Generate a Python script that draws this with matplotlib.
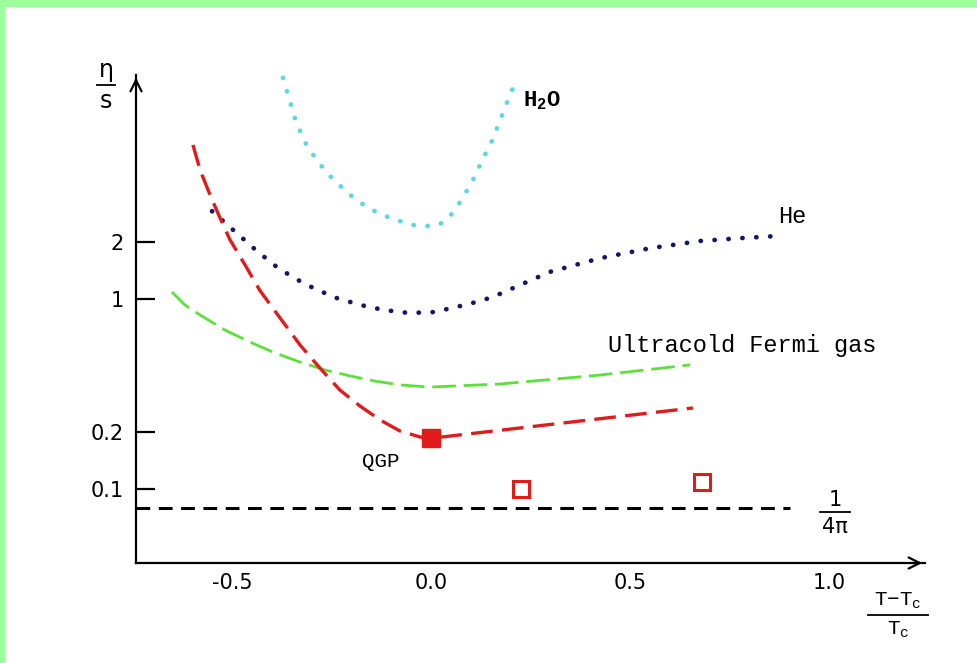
import numpy as np
import matplotlib
matplotlib.use('Agg')
import matplotlib.pyplot as plt
from matplotlib.patches import Rectangle
from matplotlib.lines import Line2D

# eta/s vs reduced temperature
h2o_x = [-0.372, -0.339, -0.317, -0.286, -0.249, -0.206, -0.158, -0.103, -0.045,
         -0.013, 0.018, 0.043, 0.075, 0.103, 0.128, 0.153, 0.173, 0.193, 0.206]
h2o_y = [14.6, 8.55, 6.70, 5.33, 4.33, 3.57, 3.01, 2.67, 2.45,
         2.42, 2.45, 2.64, 3.28, 4.13, 5.33, 6.79, 8.65, 11.1, 12.9]

he_x = [-0.550, -0.505, -0.440, -0.394, -0.344, -0.291, -0.236, -0.176, -0.118,
        -0.055, 0.008, 0.095, 0.153, 0.299, 0.425, 0.550, 0.676, 0.776, 0.877]
he_y = [2.90, 2.39, 1.81, 1.51, 1.29, 1.13, 1.01, 0.929, 0.875,
        0.844, 0.854, 0.941, 1.02, 1.39, 1.64, 1.85, 2.02, 2.09, 2.15]

fermi_x = [-0.651, -0.618, -0.580, -0.518, -0.455, -0.392, -0.329, -0.266, -0.204,
           -0.141, -0.078, -0.003, 0.173, 0.425, 0.651]
fermi_y = [1.09, 0.930, 0.824, 0.687, 0.594, 0.520, 0.466, 0.423, 0.394,
           0.370, 0.353, 0.344, 0.357, 0.398, 0.450]

qgp_x = [-0.598, -0.580, -0.555, -0.530, -0.505, -0.467, -0.430, -0.379, -0.329,
         -0.279, -0.229, -0.178, -0.128, -0.078, -0.028, 0.0, 0.658]
qgp_y = [6.47, 4.77, 3.53, 2.67, 2.05, 1.51, 1.11, 0.794, 0.573,
         0.433, 0.332, 0.273, 0.231, 0.202, 0.188, 0.185, 0.267]

qgp_pt_x, qgp_pt_y = [0.0], [0.185]
open_x = [0.226, 0.681]
open_y = [0.100, 0.109]

bound = 1 / (4 * np.pi)
bound_x = [-0.741, 0.902]

yticks = [0.1, 0.2, 1, 2]
yticklabels = ['0.1', '0.2', '1', '2']
xticks = [-0.5, 0.0, 0.5, 1.0]
xticklabels = ['-0.5', '0.0', '0.5', '1.0']

W, H = 977, 663
fig = plt.figure(figsize=(W / 100, H / 100), dpi=100)
fig.patch.set_facecolor('white')

# light green frame (top and left)
green = '#9bff9b'
fig.patches.append(Rectangle((0, 1 - 6 / H), 1, 6 / H, transform=fig.transFigure,
                             color=green, zorder=0))
fig.patches.append(Rectangle((0, 0), 4 / W, 1, transform=fig.transFigure,
                             color=green, zorder=0))

ax = fig.add_axes([136 / W, 1 - 563 / H, (925 - 136) / W, (563 - 75) / H])
ax.set_yscale('log')
ax.set_xlim(-0.741, 1.241)
ax.set_ylim(0.0408, 15.1)

mono = 'Liberation Mono'

ax.plot(h2o_x, h2o_y, color='#5cd8e0', lw=3.4, linestyle=(0, (0.05, 2.9)),
        dash_capstyle='round')
ax.plot(he_x, he_y, color='#15156b', lw=3.4, linestyle=(0, (0.05, 2.9)),
        dash_capstyle='round')
ax.plot(fermi_x, fermi_y, color='#5ee03a', lw=2.0, linestyle=(0, (8.5, 2.8)))
ax.plot(qgp_x, qgp_y, color='#e01b1b', lw=2.4, linestyle=(0, (6.5, 2.8)))
ax.plot(qgp_pt_x, qgp_pt_y, 's', color='#e01b1b', ms=13, zorder=5)
ax.plot(open_x, open_y, 's', mfc='white', mec='#e01b1b', mew=2.2, ms=11, ls='none')
ax.plot(bound_x, [bound, bound], color='black', lw=2.2, linestyle=(0, (4.5, 2.8)))

ax.text(0.231, 11.0, r'H$_\mathregular{2}$O', family=mono, fontweight='bold',
        fontsize=16, va='center', ha='left')
ax.text(0.872, 2.73, 'He', family=mono, fontsize=17, va='center', ha='left')
ax.text(0.445, 0.566, 'Ultracold Fermi gas', family=mono, fontsize=17,
        va='center', ha='left')
ax.text(-0.173, 0.139, 'QGP', family=mono, fontsize=15, va='center', ha='left')

# axes with arrows
for s in ['top', 'right']:
    ax.spines[s].set_visible(False)
for s in ['left', 'bottom']:
    ax.spines[s].set_linewidth(1.6)
ax.annotate('', xy=(1.0, 0), xytext=(0.98, 0), xycoords='axes fraction',
            arrowprops=dict(arrowstyle='->', lw=1.6, mutation_scale=20))
ax.annotate('', xy=(0, 1.0), xytext=(0, 0.98), xycoords='axes fraction',
            arrowprops=dict(arrowstyle='->', lw=1.6, mutation_scale=20))

ax.set_yticks(yticks)
ax.set_yticklabels(yticklabels)
ax.yaxis.set_minor_locator(matplotlib.ticker.NullLocator())
ax.set_xticks(xticks)
ax.set_xticklabels(xticklabels)
ax.tick_params(axis='y', direction='in', length=14, width=1.6, pad=9, labelsize=15)
ax.tick_params(axis='x', length=0, pad=7, labelsize=15)

# fraction labels in figure pixels
def frac(cx, top_y, line_y, bot_y, num, den, half, **kw):
    fig.text(cx / W, 1 - top_y / H, num, ha='center', va='center', **kw)
    fig.text(cx / W, 1 - bot_y / H, den, ha='center', va='center', **kw)
    fig.lines.append(Line2D([(cx - half) / W, (cx + half) / W],
                            [1 - line_y / H, 1 - line_y / H],
                            transform=fig.transFigure, color='black', lw=1.3))

frac(106, 70, 85, 101, 'η', 's', 9, fontsize=17)
frac(835, 500, 512, 527, '1', '4π', 15, fontsize=15)
frac(898, 601, 615, 630, r'T−T$_\mathregular{c}$', r'T$_\mathregular{c}$', 30,
     fontsize=15, family=mono)

fig.savefig('out.png', dpi=100)
